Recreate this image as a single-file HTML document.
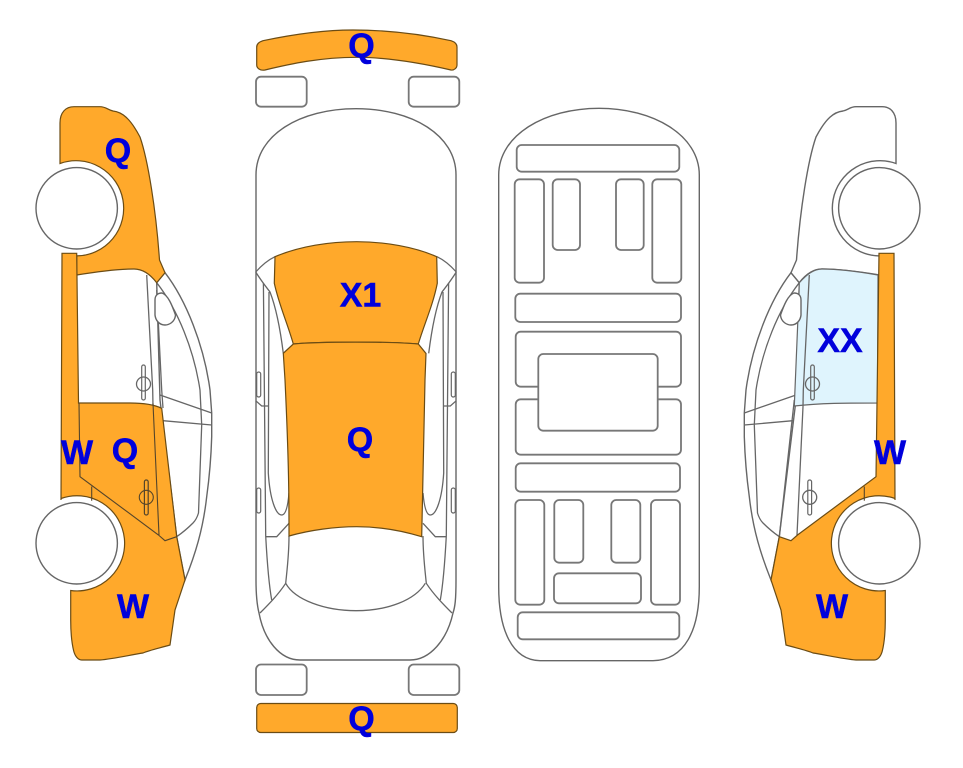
<!DOCTYPE html>
<html>
<head>
<meta charset="utf-8">
<style>
html,body{margin:0;padding:0;background:#fff;width:963px;height:768px;overflow:hidden}
svg{display:block}
text{font-family:"Liberation Sans",sans-serif;font-weight:bold;font-size:34px;fill:#0000dc;stroke:#0000dc;stroke-width:.5px;text-anchor:middle}
.l{fill:none;stroke:#666;stroke-width:1.3}
.w{fill:#fff;stroke:#666;stroke-width:1.4}
.r{fill:#fff;stroke:#777;stroke-width:1.8}
.o{fill:#ffa92b;stroke:#6b4c14;stroke-width:1.2}
.d{fill:none;stroke:#55452a;stroke-width:1.1}
</style>
</head>
<body>
<svg width="963" height="768" viewBox="0 0 963 768" xmlns="http://www.w3.org/2000/svg">

<!-- LEFT CAR -->
<g>
  <path class="w" d="M165,272.7 C186,300 204,345 210,390 L211.7,413 L211.7,436.7 C211,460 209,480 206.7,496.7 C203,530 195,555 185,580 L176.7,536.7 L160,400 L156.7,282.7 Z"/>
  <path class="l" d="M156.7,282.7 C178,310 194,350 200,390 L201.7,425 L198.5,513 C197,518 195,521 193,523 C187,529 182,533 176.7,536.7"/>
  <path class="l" d="M160,395 L211.7,413 M163,420.7 L211.7,425"/>
  <path class="l" d="M146.7,275 L152.7,390 L153,406.7 M156.7,290 L161.7,390 L163,408"/>
  <path class="w" d="M155,300 C155,295 158,293 162,293 C168,295 172,305 175.5,315 C175,322 169,325 165,325 C159,325 155.5,320 155,315 Z"/>
  <path class="o" d="M60,163.5 L60,123 C60,112 66,106.7 74,106.7 L100,106.7 C106,106.7 108,110 113,111 C122,112 130,118 140,137 C148,160 156,210 159.5,260 L165,272.7 L156.7,282.7 C150,274 142,269 134,269 C115,269 95,272 76.7,275 L76.7,255.9 A47.6,47.6 0 1 0 60,163.5 Z"/>
  <path class="o" d="M62,253.3 L76.7,253.3 L78.5,403 L130,403 C145,403 155,405 161.7,408.3 L176.7,536.7 L185,580 L175,610 L170,645 C160,648 150,650 143,653 C130,655 113,659 100,660 L81.7,660 C78,660 75,656 73.7,651 C71,640 70.7,630 70.7,620 L70.7,590.5 A47.6,47.6 0 1 0 61,498.5 L61,500 Z"/>
  <path class="d" d="M79,403 L80,476.7 L158.5,535 L165,540.7 L176.7,536.7 M153,403.5 L159,535 M91.7,486.5 L91.7,500.7"/>
  <circle class="w" cx="76.7" cy="208.3" r="40.7"/>
  <circle class="w" cx="76.7" cy="543.3" r="40.7"/>
  <rect x="141.7" y="365" width="3.6" height="35" rx="1.8" fill="#fff" stroke="#666" stroke-width="1.2"/>
  <circle class="l" cx="143.5" cy="384" r="7"/>
  <rect x="144.4" y="480" width="3.8" height="35" rx="1.8" fill="none" stroke="#55452a" stroke-width="1.2"/>
  <circle class="d" cx="146.3" cy="497.3" r="7"/>
</g>

<!-- RIGHT CAR -->
<g transform="translate(956,0) scale(-1,1)">
  <path class="w" d="M165,272.7 C186,300 204,345 210,390 L211.7,413 L211.7,436.7 C211,460 209,480 206.7,496.7 C203,530 195,555 185,580 L176.7,536.7 L160,400 L156.7,282.7 Z"/>
  <path class="l" d="M156.7,282.7 C178,310 194,350 200,390 L201.7,425 L198.5,513 C197,518 195,521 193,523 C187,529 182,533 176.7,536.7"/>
  <path class="l" d="M160,395 L211.7,413 M163,420.7 L211.7,425"/>
  <path class="w" d="M60,163.5 L60,123 C60,112 66,106.7 74,106.7 L100,106.7 C106,106.7 108,110 113,111 C122,112 130,118 140,137 C148,160 156,210 159.5,260 L165,272.7 L156.7,282.7 C150,274 142,269 134,269 C115,269 95,272 76.7,275 L76.7,255.9 A47.6,47.6 0 1 0 60,163.5 Z"/>
  <path d="M78,275 C95,272 115,269 134,269 C142,269 149,274 156.7,282.7 L157,293 L161.7,406 C135,403 110,403 78.5,403 Z" fill="#dff4fd" stroke="#666" stroke-width="1.2"/>
  <path class="l" d="M146.7,275 L152.7,390 L153,406.7 L159,535 M161.7,400 L176.7,536.7"/>
  <path class="w" d="M155,300 C155,295 158,293 162,293 C168,295 172,305 175.5,315 C175,322 169,325 165,325 C159,325 155.5,320 155,315 Z"/>
  <path class="o" d="M62,253.3 L77,253.3 L79,403 L80,476.7 L158.5,535 L165,540.7 L176.7,536.7 L185,580 L175,610 L170,645 C160,648 150,650 143,653 C130,655 113,659 100,660 L81.7,660 C78,660 75,656 73.7,651 C71,640 70.7,630 70.7,620 L70.7,590.5 A47.6,47.6 0 1 0 61,498.5 L61,500 Z"/>
  <path class="d" d="M91.7,486.5 L91.7,500.7"/>
  <circle class="w" cx="76.7" cy="208.3" r="40.7"/>
  <circle class="w" cx="76.7" cy="543.3" r="40.7"/>
  <rect x="141.7" y="365" width="3.6" height="35" rx="1.8" fill="none" stroke="#666" stroke-width="1.2"/>
  <circle class="l" cx="143.5" cy="384" r="7"/>
  <rect x="144.4" y="480" width="3.8" height="35" rx="1.8" fill="none" stroke="#666" stroke-width="1.2"/>
  <circle class="l" cx="146.3" cy="497.3" r="7"/>
</g>

<!-- TOP VIEW -->
<path class="o" d="M263,40.7 C290,35 320,30 353,30 C390,30 425,35 451,40.7 C455,42 457,44 457,47 L457,65 C457,68 454,70.5 451,70 C425,64 390,57.3 356.7,57.3 C320,57.3 290,64 265,70 C260,71 256.7,68 256.7,65 L256.7,47 C256.7,44 259,42 263,40.7 Z"/>
<rect class="r" x="256" y="76.7" width="50.7" height="30" rx="5"/>
<rect class="r" x="408.7" y="76.7" width="50.6" height="30" rx="5"/>
<rect class="r" x="256" y="664.5" width="50.7" height="30.5" rx="5"/>
<rect class="r" x="408.7" y="664.5" width="50.6" height="30.5" rx="5"/>
<rect class="o" x="256.7" y="703.5" width="200.6" height="29" rx="4"/>

<path class="w" stroke-width="1.5" d="M256,580 L256,175 C256,135 300,108.7 356,108.7 C412,108.7 456,135 456,175 L456,580 C456,600 455,607 453,613 C447,640 430,660 410,660 L300,660 C280,660 264,640 259,613 C257,605 256,595 256,580 Z"/>

<g>
  <path class="l" d="M255.7,272 C262,265 268,260 275,256.7"/>
  <path class="l" d="M255.7,272 C262,282 267,288 270,292 C277,310 281,335 283.3,353.3"/>
  <path class="l" d="M263.4,283 L265.7,536 C267,560 269,585 271.7,600"/>
  <path class="l" d="M269,292 L268.3,473 C270,500 276,515 281.7,515 C286,515 288,505 289,493"/>
  <path class="l" d="M255.7,400.7 L261.7,406 L269,406"/>
  <rect x="256.7" y="488" width="4" height="25" rx="2" fill="#fff" stroke="#666" stroke-width="1.2"/>
  <rect x="256.7" y="372" width="4" height="25" rx="2" fill="#fff" stroke="#666" stroke-width="1.2"/>
  <path class="l" d="M266,536.7 L276.7,536.7 L289,523.3"/>
  <path class="l" d="M289,536 C289,555 287,570 285.7,583.3 C278,595 268,605 260,613"/>
</g>
<g transform="translate(712,0) scale(-1,1)">
  <path class="l" d="M255.7,272 C262,265 268,260 275,256.7"/>
  <path class="l" d="M255.7,272 C262,282 267,288 270,292 C277,310 281,335 283.3,353.3"/>
  <path class="l" d="M263.4,283 L265.7,536 C267,560 269,585 271.7,600"/>
  <path class="l" d="M269,292 L268.3,473 C270,500 276,515 281.7,515 C286,515 288,505 289,493"/>
  <path class="l" d="M255.7,400.7 L261.7,406 L269,406"/>
  <rect x="256.7" y="488" width="4" height="25" rx="2" fill="#fff" stroke="#666" stroke-width="1.2"/>
  <rect x="256.7" y="372" width="4" height="25" rx="2" fill="#fff" stroke="#666" stroke-width="1.2"/>
  <path class="l" d="M266,536.7 L276.7,536.7 L289,523.3"/>
  <path class="l" d="M289,536 C289,555 287,570 285.7,583.3 C278,595 268,605 260,613"/>
</g>
<path class="l" d="M285.7,583.3 C295,600 325,610.7 356,610.7 C388,610.7 415,600 425.3,583.3"/>

<path class="o" d="M275,256.7 C300,246 330,241.7 356.7,241.7 C385,241.7 415,247 436.7,256.7 L437.3,283.3 C433,305 425,322 418.3,344 C390,341.5 320,341.5 293.3,344 C287,322 279,305 274.3,283.3 Z"/>
<path class="o" d="M293.3,344 C320,341.5 390,341.5 418.3,344 L426,353.5 L425,380 C424,420 423,470 421.7,536.7 C400,530 380,526.7 356.7,526.7 C335,526.7 310,530 289,536 C289,500 289,465 285,380 L283.3,353.3 Z"/>

<!-- FLOOR VIEW -->
<path class="w" stroke-width="1.4" d="M498.7,586.7 L498.7,175 C498.7,135 545,108.3 599,108.3 C653,108.3 699.3,135 699.3,175 L699.3,586.7 C699.3,630 685,660 653,660.7 L540,660.7 C512,660 498.7,630 498.7,586.7 Z"/>
<rect class="r" x="516.7" y="145" width="162.6" height="26.7" rx="5"/>
<rect class="r" x="514.7" y="179.3" width="29.3" height="103.4" rx="5"/>
<rect class="r" x="552.7" y="179.3" width="27.3" height="70.7" rx="5"/>
<rect class="r" x="616" y="179.3" width="27.7" height="70.7" rx="5"/>
<rect class="r" x="652.3" y="179.3" width="29" height="103.4" rx="5"/>
<rect class="r" x="515.3" y="293.7" width="165.7" height="28.3" rx="5"/>
<rect class="r" x="515.7" y="331.7" width="165.3" height="55" rx="5"/>
<rect class="r" x="515.7" y="399.3" width="165.3" height="55.4" rx="5"/>
<rect class="r" x="538.3" y="354" width="119.4" height="76.7" rx="5"/>
<rect class="r" x="515.7" y="463.3" width="164.3" height="28.4" rx="5"/>
<rect class="r" x="515.3" y="500" width="29" height="104.7" rx="5"/>
<rect class="r" x="554.3" y="500" width="29" height="62.7" rx="5"/>
<rect class="r" x="611.3" y="500" width="29" height="62.7" rx="5"/>
<rect class="r" x="651" y="500" width="29" height="104.7" rx="5"/>
<rect class="r" x="554" y="573.3" width="87" height="30" rx="5"/>
<rect class="r" x="517.7" y="612.3" width="161.6" height="27" rx="5"/>

<!-- LABELS -->
<text x="361.5" y="57">Q</text>
<text x="361.5" y="730">Q</text>
<text x="360.5" y="306.5">X1</text>
<text x="360" y="451">Q</text>
<text x="118" y="162">Q</text>
<text x="77" y="464">W</text>
<text x="125" y="462">Q</text>
<text x="133" y="618">W</text>
<text x="840" y="352">XX</text>
<text x="890" y="464">W</text>
<text x="832" y="618">W</text>
</svg>
</body>
</html>
